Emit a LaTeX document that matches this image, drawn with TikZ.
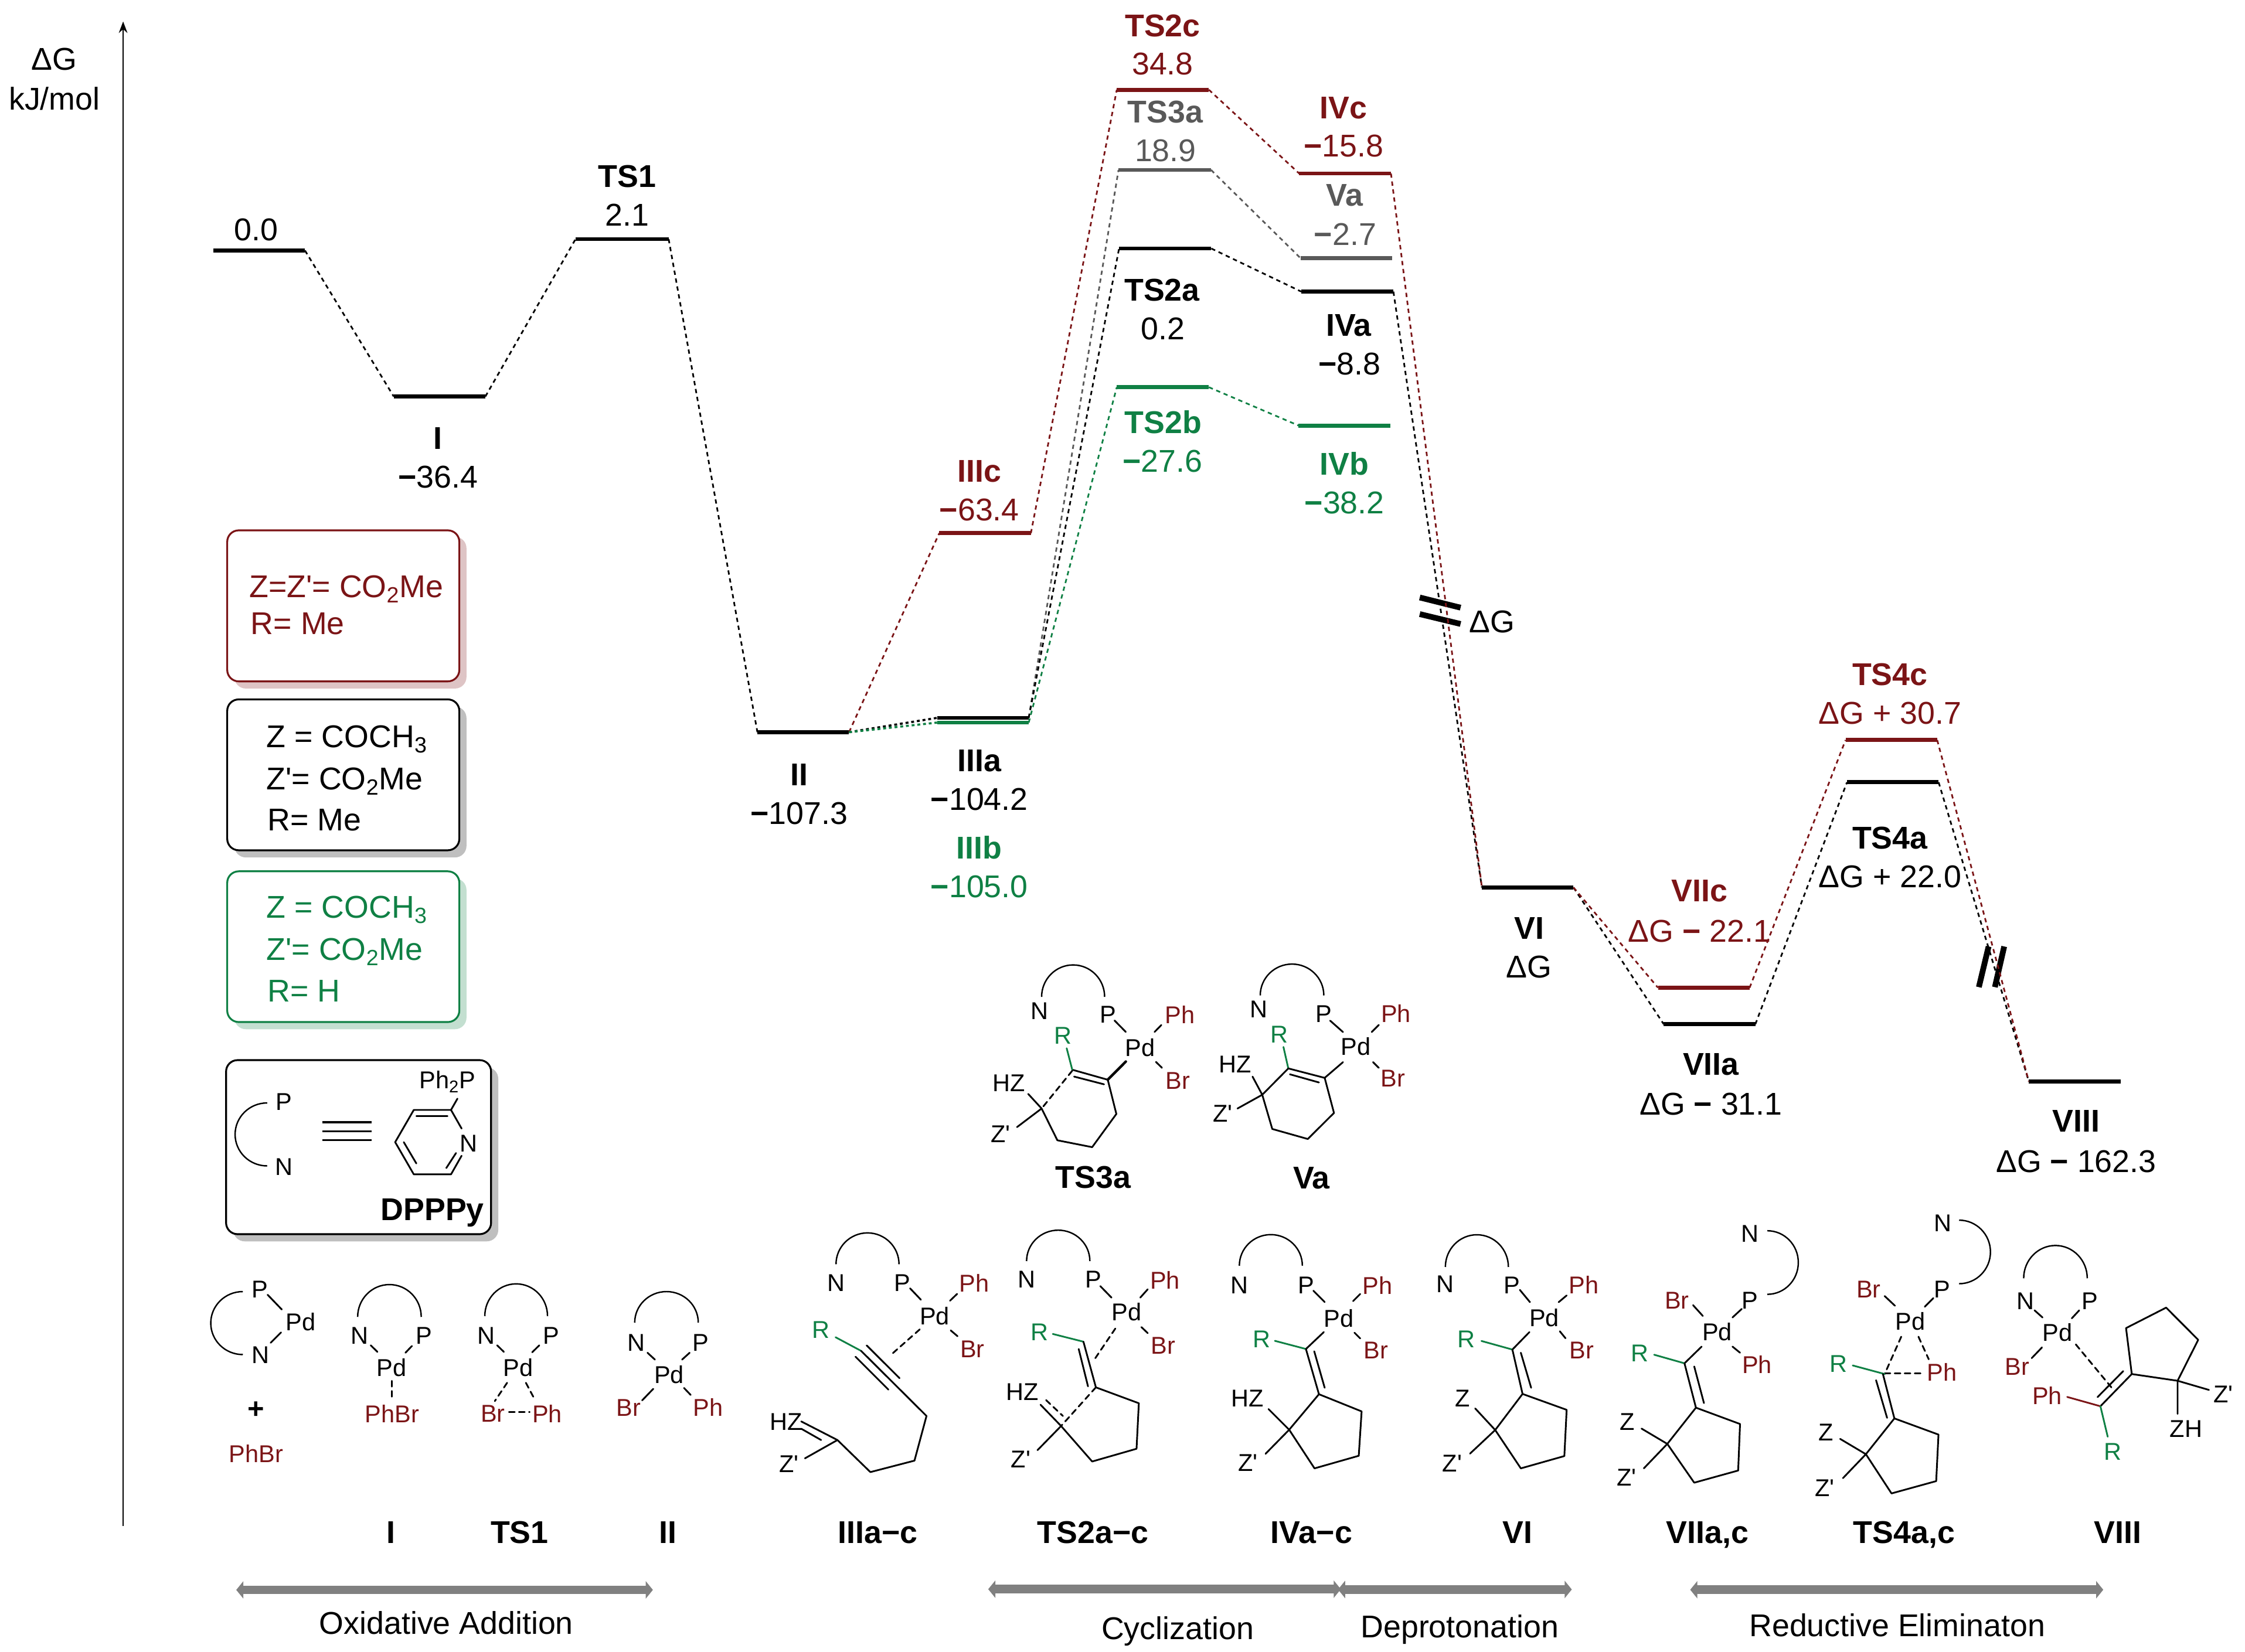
\documentclass[tikz,border=0pt]{standalone}
\usepackage{fontspec}
\setmainfont{Liberation Sans}
\usetikzlibrary{arrows.meta}
\definecolor{dred}{HTML}{7B1416}
\definecolor{dgreen}{HTML}{0F8044}
\definecolor{mgray}{HTML}{595959}
\definecolor{agray}{HTML}{808080}
\newcommand\zq{Z\textquotesingle}
\newcommand\mn{{\bfseries −}}
\newcommand\lv[5]{\coordinate (#1-l) at (#2,#4);\coordinate (#1-r) at (#3,#4);\draw[level,#5] (#1-l) -- (#1-r);}
\tikzset{
 x=1pt,y=-1pt,
 level/.style={line width=2.8pt},
 conn/.style={line width=1.15pt,dash pattern=on 3pt off 2.6pt},
 dotc/.style={line width=1.5pt,dash pattern=on 2pt off 2pt},
 bond/.style={line width=1.2pt,line cap=round,line join=round},
 dbond/.style={bond,dash pattern=on 4pt off 3pt},
 lig/.style={line width=1pt},
 t/.style={font=\fontsize{22}{26}\selectfont,anchor=base,yshift=-7.9pt,inner sep=0pt},
 b/.style={t,font=\fontsize{22}{26}\selectfont\bfseries},
 l/.style={t,anchor=base west},
 s/.style={font=\fontsize{17}{20}\selectfont,anchor=base,yshift=-6.1pt,inner sep=0pt},
 r/.style={s,text=dred},
 g/.style={s,text=dgreen},
 ibox/.style={line width=1.3pt,rounded corners=8pt,fill=white},
 brk/.style={line width=4pt},
 phase/.style={line width=6pt,agray,{Triangle[width=12pt,length=5pt]}-{Triangle[width=12pt,length=5pt]}},
}
\begin{document}
\begin{tikzpicture}
\useasboundingbox (0,0) rectangle (1568,1154);
% axis
\coordinate (axb) at (86,1066);\coordinate (axt) at (86,15);
\draw[line width=1.1pt,-{Stealth[length=8pt,width=6pt]}] (axb) -- (axt);
\node[t] (dg) at (38,41) {ΔG};
\node[t] (kj) at (38,69) {kJ/mol};
% levels
\lv{L0}{149}{213}{175}{black}
\lv{I}{275}{339}{277}{black}
\lv{TSa}{402}{467}{167}{black}
\lv{II}{529}{593}{511.5}{black}
\lv{IIIc}{656}{720}{372.5}{dred}
\lv{IIIa}{654.5}{718.5}{501.5}{black}
\lv{IIIb}{654.5}{718.5}{504.8}{dgreen}
\lv{TSbc}{780}{844.3}{62.7}{dred}
\lv{TScg}{781.2}{845.8}{118.7}{mgray}
\lv{TSba}{781.6}{846}{173.6}{black}
\lv{TSbb}{780}{844.3}{270.5}{dgreen}
\lv{IVc}{907.4}{971.5}{121.2}{dred}
\lv{Vg}{908.5}{972.4}{180.5}{mgray}
\lv{IVa}{908.8}{973.2}{203.7}{black}
\lv{IVb}{907}{971}{297.3}{dgreen}
\lv{VI}{1035}{1099}{620}{black}
\lv{VIIc}{1158}{1222}{690}{dred}
\lv{VIIa}{1162}{1226}{715.5}{black}
\lv{TSdc}{1289}{1353}{517}{dred}
\lv{TSda}{1290}{1354}{546.5}{black}
\lv{VIII}{1417}{1481}{755.5}{black}
% connectors
\draw[conn] (L0-r) -- (I-l);
\draw[conn] (I-r) -- (TSa-l);
\draw[conn] (TSa-r) -- (II-l);
\draw[conn,dred] (II-r) -- (IIIc-l);
\draw[dotc] (II-r) -- (IIIa-l);
\draw[dotc,dgreen] (II-r) -- (IIIb-l);
\draw[conn,dred] (IIIc-r) -- (TSbc-l);
\draw[conn,mgray] (IIIa-r) -- (TScg-l);
\draw[conn] (IIIa-r) -- (TSba-l);
\draw[conn,dgreen] (IIIb-r) -- (TSbb-l);
\draw[conn,dred] (TSbc-r) -- (IVc-l);
\draw[conn,mgray] (TScg-r) -- (Vg-l);
\draw[conn] (TSba-r) -- (IVa-l);
\draw[conn,dgreen] (TSbb-r) -- (IVb-l);
\draw[brk] (991.6,417.4) -- (1020.1,424.5);
\draw[brk] (991.6,429) -- (1020.1,435.9);
\draw[conn] (IVa-r) -- (VI-l);
\draw[conn,dred] (IVc-r) -- (VI-l);
\draw[conn] (VI-r) -- (VIIa-l);
\draw[conn,dred] (VI-r) -- (VIIc-l);
\draw[conn] (VIIa-r) -- (TSda-l);
\draw[conn,dred] (VIIc-r) -- (TSdc-l);
\draw[brk] (1388.9,661.2) -- (1382.1,689.6);
\draw[brk] (1399.8,661.2) -- (1393.3,689.6);
\draw[conn] (TSda-r) -- (VIII-l);
\draw[conn,dred] (TSdc-r) -- (VIII-l);
% level labels
\node[t] (v0) at (179,160) {0.0};
\node[b] (nI) at (306,306) {I};
\node[t] (vI) at (306,333) {\mn36.4};
\node[b] (nTSa) at (438,123) {TS1};
\node[t] (vTSa) at (438,150) {2.1};
\node[b] (nII) at (558,541) {II};
\node[t] (vII) at (558,568) {\mn107.3};
\node[b,text=dred] (nIIIc) at (684,329) {IIIc};
\node[t,text=dred] (vIIIc) at (684,356) {\mn63.4};
\node[b] (nIIIa) at (684,531) {IIIa};
\node[t] (vIIIa) at (684,558) {\mn104.2};
\node[b,text=dgreen] (nIIIb) at (684,592) {IIIb};
\node[t,text=dgreen] (vIIIb) at (684,619) {\mn105.0};
\node[b,text=dred] (nTSbc) at (812,17.8) {TS2c};
\node[t,text=dred] (vTSbc) at (812,44.5) {34.8};
\node[b,text=mgray] (nTScg) at (813.8,77.7) {TS3a};
\node[t,text=mgray] (vTScg) at (814,105) {18.9};
\node[b] (nTSba) at (811.6,202.2) {TS2a};
\node[t] (vTSba) at (812.3,229.2) {0.2};
\node[b,text=dgreen] (nTSbb) at (812.3,295) {TS2b};
\node[t,text=dgreen] (vTSbb) at (812,322) {\mn27.6};
\node[b,text=dred] (nIVc) at (938.4,74.8) {IVc};
\node[t,text=dred] (vIVc) at (938.4,101.7) {\mn15.8};
\node[b,text=mgray] (nVg) at (939,136.2) {Va};
\node[t,text=mgray] (vVg) at (939.5,163.4) {\mn2.7};
\node[b] (nIVa) at (942,227) {IVa};
\node[t] (vIVa) at (942.6,253.8) {\mn8.8};
\node[b,text=dgreen] (nIVb) at (939,324) {IVb};
\node[t,text=dgreen] (vIVb) at (939,351) {\mn38.2};
\node[t] (dgb) at (1042,434) {ΔG};
\node[b] (nVI) at (1068,648) {VI};
\node[t] (vVI) at (1068,675) {ΔG};
\node[b,text=dred] (nVIIc) at (1187,622) {VIIc};
\node[t,text=dred] (vVIIc) at (1187,650) {ΔG \mn\ 22.1};
\node[b] (nVIIa) at (1195,743) {VIIa};
\node[t] (vVIIa) at (1195,771) {ΔG \mn\ 31.1};
\node[b,text=dred] (nTSdc) at (1320,471) {TS4c};
\node[t,text=dred] (vTSdc) at (1320,498) {ΔG + 30.7};
\node[b] (nTSda) at (1320,585) {TS4a};
\node[t] (vTSda) at (1320,612) {ΔG + 22.0};
\node[b] (nVIII) at (1450,783) {VIII};
\node[t] (vVIII) at (1450,811) {ΔG \mn\ 162.3};
% legend boxes
\fill[dred!25,rounded corners=8pt] (163.7,375) rectangle (325.8,481);
\draw[ibox,draw=dred] (158.7,370.5) rectangle (320.8,476);
\node[l,text=dred] (la) at (174,409.6) {Z=\zq= CO\textsubscript{2}Me};
\node[l,text=dred] (lb) at (175,435.3) {R= Me};
\fill[black!25,rounded corners=8pt] (163.7,493.6) rectangle (325.8,599);
\draw[ibox] (158.7,488.6) rectangle (320.8,594);
\node[l] (lc) at (186,514.3) {Z = COCH\textsubscript{3}};
\node[l] (ld) at (186,543.9) {\zq= CO\textsubscript{2}Me};
\node[l] (le) at (186.8,572.5) {R= Me};
\fill[dgreen!25,rounded corners=8pt] (163.7,613.7) rectangle (325.8,719);
\draw[ibox,draw=dgreen] (158.7,608.7) rectangle (320.8,714);
\node[l,text=dgreen] (lf) at (186,633.4) {Z = COCH\textsubscript{3}};
\node[l,text=dgreen] (lg) at (186,663) {\zq= CO\textsubscript{2}Me};
\node[l,text=dgreen] (lh) at (186.8,692) {R= H};
% DPPPy box
\fill[black!25,rounded corners=8pt] (162.9,745.6) rectangle (348,867.2);
\draw[ibox] (157.9,740.6) rectangle (343,862.2);
\draw[lig] (186.6,770.5) arc[start angle=90,end angle=270,x radius=22.4pt,y radius=22pt];
\node[s] (dP) at (198.4,769.4) {P};
\node[s] (dN) at (198.4,815) {N};
\draw[line width=1.5pt] (225,784) -- (259.5,784) (225,790.3) -- (259.5,790.3) (225,796.5) -- (259.5,796.5);
\draw[bond] (322.4,788.4) -- (315,775.4) -- (289,775.4) -- (276,797.9) -- (289,820.4) -- (315,820.4) -- (322.4,807.4);
\draw[bond] (315,775.4) -- (319.5,767.5);
\draw[bond] (290.8,779.7) -- (312.5,779.7) (282,797.9) -- (290.8,812.8) (311.7,816) -- (318.5,805.5);
\node[s] (dN2) at (327.4,798.7) {N};
\node[s] (dP2) at (312.5,754.5) {Ph\textsubscript{2}P};
\node[b] (dp) at (302,844.8) {DPPPy};
% reactant
\draw[lig] (169.6,902.3) arc[start angle=90,end angle=270,x radius=22.4pt,y radius=22pt];
\node[s] (aP) at (181.4,900.7) {P};\node[s] (aN) at (182,946.5) {N};\node[s] (aPd) at (209.9,923.5) {Pd};
\draw[bond] (186.9,904.5) -- (196.8,914.8) (189,938.1) -- (196.3,930.8);
\node[b,font=\fontsize{20}{22}\selectfont\bfseries] (aplus) at (178.8,983) {+};
\node[r] (aPh) at (178.8,1015.7) {PhBr};
% I
\draw[lig] (249.8,920) arc[start angle=180,end angle=0,x radius=22.2pt,y radius=22.6pt];
\node[s] (bN) at (251.1,932.7) {N};\node[s] (bP) at (296.3,932.7) {P};\node[s] (bPd) at (273.6,955.5) {Pd};
\draw[bond] (258.9,939.8) -- (263.6,944.4) (287.7,940.3) -- (283.2,945);
\draw[bond,dash pattern=on 4pt off 3pt] (273.6,964.7) -- (273.6,978.3);
\node[r] (bPh) at (273.8,987.8) {PhBr};
% TS1
\draw[lig] (338.6,919.4) arc[start angle=180,end angle=0,x radius=21.9pt,y radius=22.5pt];
\node[s] (cN) at (339.4,932.7) {N};\node[s] (cP) at (384.8,932.7) {P};\node[s] (cPd) at (362,955.2) {Pd};
\draw[bond] (347.2,939.8) -- (351.9,944.4) (376.7,939.8) -- (371.7,944.7);
\draw[dbond] (354.2,966) -- (345.6,978.8);
\draw[dbond] (367.3,966) -- (373.8,978.3);
\draw[dbond] (355.5,986.4) -- (369.9,986.4);
\node[r] (cBr) at (344.3,987.3) {Br};\node[r] (cPh) at (382.2,987.8) {Ph};
% II
\draw[lig] (443.3,924) arc[start angle=180,end angle=0,x radius=22.2pt,y radius=21.7pt];
\node[s] (dn) at (444.3,937.6) {N};\node[s] (dp3) at (489.5,937.6) {P};\node[s] (dPd) at (467.3,960.1) {Pd};
\draw[bond] (452.2,945) -- (457.4,949.8) (481.7,945) -- (476.4,949.8) (456.3,970.2) -- (448.5,978.3) (477.7,969.6) -- (482.4,974.5);
\node[r] (dBr) at (439,983.2) {Br};\node[r] (dPh) at (494.5,983.2) {Ph};
% TS3a
\draw[lig] (727.5,696.4) arc[start angle=180,end angle=0,x radius=22pt,y radius=22.3pt];
\node[s] (eN) at (726.2,705.9) {N};\node[s] (eP) at (773.7,708.5) {P};\node[s] (ePd) at (796.4,732) {Pd};
\node[r] (ePh) at (824.1,709.1) {Ph};\node[r] (eBr) at (822.5,754.6) {Br};\node[g] (eR) at (742.4,723.4) {R};
\node[s] (eHZ) at (704.5,756.2) {HZ};\node[s] (eZ) at (698.8,791.9) {\zq};
\draw[bond] (778.4,712.9) -- (786.3,720.9) (806.4,720.9) -- (811.1,716.1) (807.4,741.9) -- (811.6,746);
\draw[bond,line width=1.8pt] (786.3,741.6) -- (773.7,754.3);
\draw[bond] (748.9,747.3) -- (773.7,754.3) (750.2,752.1) -- (771.1,757.5);
\draw[bond,dgreen] (745,732.3) -- (748.9,747.3);
\draw[dbond] (748.9,748) -- (727.5,774.4);
\draw[bond] (727.5,774.4) -- (738.5,796.6) -- (762.8,801.4) -- (779.7,778.2) -- (773.7,754.3);
\draw[bond] (718.1,764.2) -- (727.5,774.4) (710.3,787.4) -- (727.5,774.4);
\node[b] (eL) at (763.5,822.1) {TS3a};
% Va
\draw[lig] (880.2,695.4) arc[start angle=180,end angle=0,x radius=22.2pt,y radius=21.9pt];
\node[s] (fN) at (879,705) {N};\node[s] (fP) at (924.6,708.2) {P};\node[s] (fPd) at (947,731) {Pd};
\node[r] (fPh) at (975,708) {Ph};\node[r] (fBr) at (973,753) {Br};\node[g] (fR) at (893.3,722.5) {R};
\node[s] (fHZ) at (862.8,743.2) {HZ};\node[s] (fZ) at (853.9,777.5) {\zq};
\draw[bond] (929,713) -- (938,721) (958,721) -- (963,716) (959,742) -- (963,746) (925.2,753) -- (938,742);
\draw[bond,dgreen] (896.4,731.4) -- (899.8,746.4);
\draw[bond] (899.8,746.4) -- (925.2,753) (900.9,750.5) -- (921.2,756.2);
\draw[bond] (899.8,746.4) -- (881.6,764.8) -- (888.6,788.7) -- (913.4,795.7) -- (931.7,777.5) -- (925.2,753);
\draw[bond] (874.8,752.1) -- (881.6,764.8) (864.3,774.4) -- (881.6,764.8);
\node[b] (fL) at (916,822.7) {Va};
% IIIa-c
\draw[lig] (583.9,883.2) arc[start angle=180,end angle=0,x radius=22pt,y radius=21.9pt];
\node[s] (gN) at (583.9,896) {N};\node[s] (gP) at (630.4,896) {P};\node[s] (gPd) at (652.8,919.2) {Pd};
\node[r] (gPh) at (680.5,896.3) {Ph};\node[r] (gBr) at (679.2,942.1) {Br};\node[g] (gR) at (573.5,928.7) {R};
\node[s] (gHZ) at (549.2,993) {HZ};\node[s] (gZ) at (551,1022.6) {\zq};
\draw[bond] (635.6,900) -- (643.2,908) (663.5,908.7) -- (668.5,903.9) (664,929.4) -- (668.8,933.5);
\draw[dbond] (642.4,928.7) -- (621.8,946.9);
\draw[bond,dgreen] (583.6,934.2) -- (601.4,943.7);
\draw[bond] (601.4,943.7) -- (647.1,989.2) -- (638.7,1020.4) -- (607.9,1028.4) -- (584.9,1006) -- (559.6,993);
\draw[bond] (605.3,939.9) -- (628.3,962.8) (597.5,947.8) -- (620.5,970.8);
\draw[bond] (559.6,998.1) -- (573.5,1006) (562.2,1018.8) -- (584.9,1006);
\node[b] (gL) at (613.1,1070.4) {IIIa\mn c};
% TS2a-c
\draw[lig] (717,881) arc[start angle=180,end angle=0,x radius=22.1pt,y radius=21.6pt];
\node[s] (hN) at (717,893.7) {N};\node[s] (hP) at (763.5,893.7) {P};\node[s] (hPd) at (786.8,916.6) {Pd};
\node[r] (hPh) at (813.7,894.4) {Ph};\node[r] (hBr) at (812.4,939.9) {Br};\node[g] (hR) at (725.9,930.3) {R};
\node[s] (hHZ) at (714.2,972.3) {HZ};\node[s] (hZ) at (712.9,1019.4) {\zq};
\draw[bond] (768.5,898.5) -- (776.3,906.5) (796.4,906.5) -- (801.6,900.7) (797.2,927.1) -- (801.6,931.3);
\draw[dbond] (779,928.1) -- (764.6,949.4);
\draw[bond,dgreen] (735.3,931.9) -- (756.7,937.3);
\draw[bond] (756.7,937.3) -- (765.4,969.2) -- (795.4,980.3) -- (793.8,1012.1) -- (762.8,1021) -- (741.1,996.2);
\draw[bond] (753.4,942.4) -- (759.9,968.5);
\draw[dbond] (765.4,969.2) -- (741.1,996.2);
\draw[bond] (726.7,981.3) -- (741.1,996.2) (724.6,1013.1) -- (741.1,996.2);
\draw[dbond] (730.6,978.1) -- (742.4,989.2);
\node[b] (hL) at (763.3,1070.4) {TS2a\mn c};
% IVa-c
\draw[lig] (865.6,884.2) arc[start angle=180,end angle=0,x radius=22pt,y radius=21.7pt];
\node[s] (iN) at (865.6,897.6) {N};\node[s] (iP) at (912.1,897.6) {P};\node[s] (iPd) at (935,921) {Pd};
\node[r] (iPh) at (962,898) {Ph};\node[r] (iBr) at (961,943) {Br};\node[g] (iR) at (881.3,935.1) {R};
\node[s] (iHZ) at (871.1,976.5) {HZ};\node[s] (iZ) at (871.6,1021.7) {\zq};
\draw[bond] (917.3,901.7) -- (925.2,909.6) (945,909) -- (950,904) (946,931) -- (950,935) (924.6,930.6) -- (912.1,942.4);
\draw[bond,dgreen] (890.4,936.7) -- (912.1,942.4);
\draw[bond] (912.1,942.4) -- (921.2,974) (917.9,944) -- (925.2,969.5);
\draw[bond] (921.2,974) -- (900.4,998.8) -- (918.1,1025.8) -- (949,1017) -- (951,986) -- cycle;
\draw[bond] (886,984.4) -- (900.4,998.8) (883.9,1015.6) -- (900.4,998.8);
\node[b] (iL) at (916,1070.4) {IVa\mn c};
% VI
\draw[lig] (1009.5,885.1) arc[start angle=180,end angle=0,x radius=22pt,y radius=22.5pt];
\node[s] (jN) at (1009.5,897) {N};\node[s] (jP) at (1055.9,897.5) {P};\node[s] (jPd) at (1078.6,920.6) {Pd};
\node[r] (jPh) at (1106.2,897.5) {Ph};\node[r] (jBr) at (1104.6,943.2) {Br};\node[g] (jR) at (1024.3,935.3) {R};
\node[s] (jZ) at (1021.5,976.6) {Z};\node[s] (jZp) at (1014.3,1021.9) {\zq};
\draw[bond] (1061.5,901.1) -- (1068.6,909.7) (1088.6,909.7) -- (1094.2,905) (1089.4,930) -- (1093.4,934.9) (1068.2,930.6) -- (1056.3,942.8);
\draw[bond,dgreen] (1034.7,936.8) -- (1056.3,942.8);
\draw[bond] (1056.3,942.8) -- (1063.4,973.8) (1062.2,945) -- (1069.4,969.5);
\draw[bond] (1063.4,973.8) -- (1094.2,984.9) -- (1092.6,1017.2) -- (1062.2,1025.8) -- (1044.3,999) -- cycle;
\draw[bond] (1030.3,983.9) -- (1044.3,999) (1026.7,1015.5) -- (1044.3,999);
\node[b] (jL) at (1059.9,1070.4) {VI};
% VIIa,c
\node[s] (kN) at (1222.4,861.6) {N};\node[s] (kP) at (1222,908.2) {P};\node[s] (kPd) at (1199.3,930.4) {Pd};
\draw[lig] (1234.4,859.8) arc[start angle=90,end angle=-90,x radius=21.6pt,y radius=22.2pt];
\node[r] (kBr) at (1171.3,908.2) {Br};\node[r] (kPh) at (1227.2,953.5) {Ph};\node[g] (kR) at (1145.3,945) {R};
\node[s] (kZ) at (1136.5,993) {Z};\node[s] (kZp) at (1136.1,1032) {\zq};
\draw[bond] (1216.5,914.4) -- (1210,920.4) (1182.5,911.8) -- (1189.3,919.3) (1210,940.7) -- (1215.3,945) (1188.5,940.7) -- (1176.5,952.4);
\draw[bond,dgreen] (1155.3,946.4) -- (1176.5,952.4);
\draw[bond] (1176.5,952.4) -- (1184.5,983.4) (1183.3,954.6) -- (1190.1,980.2);
\draw[bond] (1184.5,983.4) -- (1215.3,994.8) -- (1214,1027.3) -- (1183.3,1035.8) -- (1164.5,1008.7) -- cycle;
\draw[bond] (1146.5,998) -- (1164.5,1008.7) (1148.1,1025.8) -- (1164.5,1008.7);
\node[b] (kL) at (1192.5,1070.4) {VIIa,c};
% TS4a,c
\node[s] (mN) at (1357.1,854.1) {N};\node[s] (mP) at (1356.3,900.5) {P};\node[s] (mPd) at (1334.3,923.1) {Pd};
\draw[lig] (1368.3,852.4) arc[start angle=90,end angle=-90,x radius=21.9pt,y radius=22.2pt];
\node[r] (mBr) at (1305.1,900.5) {Br};\node[r] (mPh) at (1356.3,958.8) {Ph};\node[g] (mR) at (1284,952.4) {R};
\node[s] (mZ) at (1275.2,1000.5) {Z};\node[s] (mZp) at (1274.4,1039.4) {\zq};
\draw[bond] (1350.3,906.9) -- (1344.3,912.9) (1316.3,905.4) -- (1323.5,912.2);
\draw[dbond] (1327.9,933.8) -- (1316.3,959.9);
\draw[dbond] (1339.9,933.8) -- (1347.1,949.6);
\draw[dbond] (1316.3,959.5) -- (1343.1,959.5);
\draw[bond,dgreen] (1294,953.9) -- (1316.3,959.9);
\draw[bond] (1315.1,959.9) -- (1323.1,990.9) (1310.3,964.2) -- (1318,990.5);
\draw[bond] (1323.1,990.9) -- (1353.9,1002.2) -- (1352.3,1034.7) -- (1321.1,1043.3) -- (1303.2,1015.9) -- cycle;
\draw[bond] (1285.2,1005.2) -- (1303.2,1015.9) (1287.2,1032.6) -- (1303.2,1015.9);
\node[b] (mL) at (1329.9,1070.4) {TS4a,c};
% VIII
\draw[lig] (1413.4,893) arc[start angle=180,end angle=0,x radius=22.2pt,y radius=22.9pt];
\node[s] (nN) at (1414.6,908.6) {N};\node[s] (nP) at (1459.7,908.6) {P};\node[s] (nPd) at (1437,931) {Pd};
\node[r] (nBr) at (1409,954.6) {Br};\node[r] (nPh) at (1429.8,974.9) {Ph};\node[g] (nR) at (1475.7,1013.8) {R};
\node[s] (nZH) at (1526.9,997.8) {ZH};\node[s] (nZp) at (1552.8,973.8) {\zq};
\draw[bond] (1421,915.4) -- (1426.6,920.4) (1452.2,915.4) -- (1447,921) (1426.2,941.3) -- (1419,948.8);
\draw[dbond] (1449.8,939.2) -- (1474.9,969.5);
\draw[bond] (1488.9,959.9) -- (1484.9,927.8) -- (1512.9,913.5) -- (1535.3,936) -- (1520.9,964.6) -- cycle;
\draw[bond] (1488.9,959.9) -- (1467,982.4) (1483,957.8) -- (1465,976);
\draw[bond,dred] (1443.8,975.9) -- (1467,982.4);
\draw[bond,dgreen] (1467,982.4) -- (1472.1,1003.7);
\draw[bond] (1520.9,964.6) -- (1520.9,987.7) (1520.9,964.6) -- (1542.8,971);
\node[b] (nL) at (1479,1070.4) {VIII};
% compound labels
\node[b] (qI) at (273,1070.4) {I};
\node[b] (qT) at (362.9,1070.4) {TS1};
\node[b] (qII) at (466.5,1070.4) {II};
% phases
\coordinate (pa) at (165,1110.7);\coordinate (pb) at (456,1110.7);
\coordinate (pc) at (690.2,1110.2);\coordinate (pd) at (936.5,1110.2);
\coordinate (pe) at (934.5,1110.4);\coordinate (pf) at (1097.8,1110.4);
\coordinate (pg) at (1180.5,1110.6);\coordinate (ph) at (1469,1110.6);
\draw[phase] (pa) -- (pb);
\draw[phase] (pc) -- (pd);
\draw[phase] (pe) -- (pf);
\draw[phase] (pg) -- (ph);
\node[t] (oa) at (311.7,1133.5) {Oxidative Addition};
\node[t] (ob) at (822.5,1137.2) {Cyclization};
\node[t] (oc) at (1019.5,1136.3) {Deprotonation};
\node[t] (od) at (1325.1,1135.2) {Reductive Eliminaton};
\end{tikzpicture}
\end{document}
